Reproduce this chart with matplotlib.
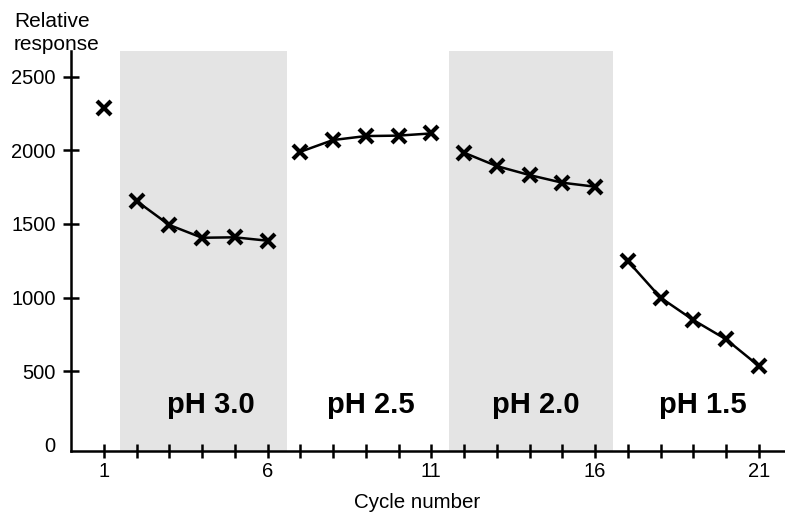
import matplotlib
matplotlib.use('Agg')
import matplotlib.pyplot as plt

plt.rcParams['font.family'] = ['Liberation Sans', 'DejaVu Sans']

# cycle numbers and responses, split by pH phase
cycle_start = [1]
resp_start = [2290]
cycles_ph30 = [2, 3, 4, 5, 6]
resp_ph30 = [1656, 1493, 1406, 1409, 1386]
cycles_ph25 = [7, 8, 9, 10, 11]
resp_ph25 = [1990, 2070, 2097, 2100, 2115]
cycles_ph20 = [12, 13, 14, 15, 16]
resp_ph20 = [1984, 1893, 1832, 1780, 1753]
cycles_ph15 = [17, 18, 19, 20, 21]
resp_ph15 = [1248, 999, 847, 716, 535]

phase_labels = ['pH 3.0', 'pH 2.5', 'pH 2.0', 'pH 1.5']
shaded = [(1.5, 6.6), (11.55, 16.55)]

fig = plt.figure(figsize=(7.85, 5.12), dpi=100)
ax = fig.add_axes([71 / 785, 1 - 451 / 512, 1 - 71 / 785, (451 - 51) / 512])

for a, b in shaded:
    ax.axvspan(a, b, color='#e4e4e4', lw=0, zorder=0)

mk = dict(color='black', marker='x', markersize=10.5, markeredgewidth=3, lw=1.8, zorder=3)
ax.plot(cycle_start, resp_start, **mk)
for xs, ys in [(cycles_ph30, resp_ph30), (cycles_ph25, resp_ph25),
               (cycles_ph20, resp_ph20), (cycles_ph15, resp_ph15)]:
    ax.plot(xs, ys, **mk)

label_x = [4.27, 9.15, 14.2, 19.3]
for lx, t in zip(label_x, phase_labels):
    ax.text(lx, 270, t, ha='center', va='center', fontsize=21, fontweight='bold')

ax.set_xlim(0, 21.8)
ax.set_ylim(-43, 2675)

ax.set_xticks(range(1, 22))
ax.set_xticklabels([str(i) if i in (1, 6, 11, 16, 21) else '' for i in range(1, 22)])
ax.set_yticks([0, 500, 1000, 1500, 2000, 2500])
ax.tick_params(axis='y', direction='inout', length=12, width=1.8, labelsize=14.5, pad=5)
ax.tick_params(axis='x', direction='inout', length=10, width=1.8, labelsize=14.5, pad=3)
ax.yaxis.get_major_ticks()[0].tick1line.set_visible(False)

for s in ['top', 'right']:
    ax.spines[s].set_visible(False)
for s in ['left', 'bottom']:
    ax.spines[s].set_linewidth(1.8)

fig.text(14 / 785, 1 - 33 / 512, 'Relative\nresponse', ha='left', va='center',
         fontsize=15, linespacing=1.3)
fig.text(417 / 785, 1 - 502 / 512, 'Cycle number', ha='center', va='center', fontsize=14.8)

fig.savefig('out.png', dpi=100)
